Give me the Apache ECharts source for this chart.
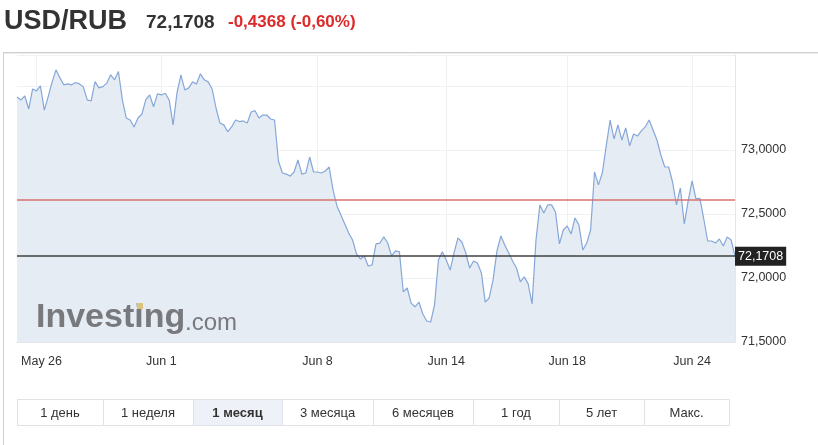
<!DOCTYPE html>
<html>
<head>
<meta charset="utf-8">
<script src="https://cdn.jsdelivr.net/npm/echarts@6/dist/echarts.min.js"></script>
<style>html,body{margin:0;padding:0;background:#fff;}#c{width:818px;height:445px;}</style>
</head>
<body>
<div id="c"></div>
<script>
// ---- data ----
const symbol = 'USD/RUB';
const lastPrice = 72.1708;
const prevClose = 72.6076;
const changeText = '-0,4368 (-0,60%)';
const tickLabels = ['May 26', 'Jun 1', 'Jun 8', 'Jun 14', 'Jun 18', 'Jun 24'];
const tickIndex = [5, 37, 77, 110, 141, 173];
const yTickValues = [71.5, 72.0, 72.5, 73.0];
const ranges = ['1 день', '1 неделя', '1 месяц', '3 месяца', '6 месяцев', '1 год', '5 лет', 'Макс.'];
const activeRange = '1 месяц';
// 3-hour steps over trading time
const rates = [
73.414,73.391,73.422,73.320,73.477,73.461,73.501,73.312,73.417,73.532,
73.626,73.563,73.509,73.516,73.509,73.527,73.516,73.493,73.391,73.383,
73.534,73.485,73.495,73.522,73.587,73.548,73.613,73.391,73.250,73.234,
73.180,73.250,73.281,73.391,73.430,73.338,73.438,73.430,73.443,73.391,
73.196,73.446,73.587,73.469,73.485,73.532,73.516,73.595,73.548,73.532,
73.477,73.328,73.211,73.196,73.143,73.180,73.234,73.222,73.227,73.211,
73.297,73.307,73.250,73.273,73.273,73.242,73.234,72.914,72.820,72.812,
72.796,72.828,72.922,72.812,72.820,72.945,72.828,72.828,72.820,72.836,
72.867,72.687,72.563,72.492,72.422,72.351,72.297,72.188,72.149,72.172,
72.094,72.102,72.266,72.273,72.321,72.273,72.172,72.212,72.204,71.891,
71.922,71.804,71.775,71.812,71.719,71.664,71.656,71.789,72.141,72.204,
72.141,72.062,72.196,72.313,72.281,72.196,72.078,72.133,72.117,72.040,
71.812,71.844,71.985,72.212,72.328,72.258,72.196,72.133,72.078,71.969,
72.009,71.954,71.797,72.297,72.571,72.508,72.571,72.571,72.516,72.266,
72.375,72.407,72.344,72.469,72.415,72.219,72.273,72.375,72.828,72.727,
72.820,73.032,73.234,73.086,73.196,73.078,73.172,73.032,73.125,73.109,
73.149,73.180,73.234,73.156,73.078,72.961,72.867,72.867,72.750,72.571,
72.703,72.422,72.602,72.758,72.618,72.622,72.461,72.289,72.289,72.273,
72.305,72.250,72.321,72.297,72.1708
];

// ---- build chart ----
const FONT = "'Liberation Sans', Arial, sans-serif";
const categories = rates.map(() => '');
tickIndex.forEach((idx, k) => { categories[idx] = tickLabels[k]; });
const fmt4 = v => v.toFixed(4).replace('.', ',');

const chart = echarts.init(document.getElementById('c'), null, {renderer: 'canvas'});

const graphics = [];
// panel borders
graphics.push({type: 'line', shape: {x1: 3, y1: 52.5, x2: 818, y2: 52.5}, style: {stroke: '#cfcfcf', lineWidth: 1}, silent: true});
graphics.push({type: 'line', shape: {x1: 3, y1: 53.5, x2: 818, y2: 53.5}, style: {stroke: '#ececec', lineWidth: 1}, silent: true});
graphics.push({type: 'line', shape: {x1: 3.5, y1: 52, x2: 3.5, y2: 445}, style: {stroke: '#d0d0d0', lineWidth: 1}, silent: true});
// header
graphics.push({type: 'text', left: 4, top: 8, style: {text: symbol, font: 'bold 27px ' + FONT, fill: '#333'}});
graphics.push({type: 'text', left: 146, top: 13, style: {text: fmt4(lastPrice), font: 'bold 19px ' + FONT, fill: '#333'}});
graphics.push({type: 'text', left: 228, top: 14, style: {text: changeText, font: 'bold 17px ' + FONT, fill: '#dd2a2a'}});
// watermark (drawn above the filled area)
graphics.push({type: 'text', left: 36, top: 301, z: 100, style: {text: 'Investing', font: 'bold 34px ' + FONT, fill: '#78797d'}, silent: true});
graphics.push({type: 'rect', shape: {x: 137, y: 303, width: 6, height: 6}, z: 101, style: {fill: '#dcc47e'}, silent: true});
graphics.push({type: 'text', left: 185, top: 311, z: 100, style: {text: '.com', font: '24px ' + FONT, fill: '#78797d'}, silent: true});
// range buttons
const btnEdges = [17, 103, 193, 282, 373, 473, 559, 644, 729];
ranges.forEach((r, i) => {
  const x0 = btnEdges[i], x1 = btnEdges[i + 1];
  const active = r === activeRange;
  graphics.push({type: 'rect', shape: {x: x0 + 0.5, y: 399.5, width: x1 - x0, height: 26},
    style: {fill: active ? '#eef2f8' : '#fff', stroke: '#dfe2e7', lineWidth: 1}, silent: true});
  graphics.push({type: 'text', x: (x0 + x1) / 2, y: 413, style: {text: r, font: (active ? 'bold ' : '') + '13px ' + FONT,
    fill: '#333', align: 'center', verticalAlign: 'middle'}, silent: true});
});

chart.setOption({
  animation: false,
  backgroundColor: '#fff',
  grid: {left: 17, top: 55, right: 83, bottom: 103, containLabel: false},
  xAxis: {
    type: 'category', data: categories, boundaryGap: false,
    axisTick: {show: false},
    axisLine: {show: true, lineStyle: {color: '#e3e6ea'}},
    axisLabel: {interval: 0, margin: 13, color: '#333', fontSize: 12.5, fontFamily: FONT,
      formatter: (v, i) => v === 'May 26' ? '{a|' + v + '}' : v,
      rich: {a: {padding: [0, 0, 0, 10], color: '#333', fontSize: 12.5, fontFamily: FONT}}},
    splitLine: {show: true, interval: (i) => categories[i] !== '', lineStyle: {color: '#eef0f3'}}
  },
  yAxis: {
    type: 'value', position: 'right', min: 71.5, max: 73.742, interval: 0.5,
    axisLine: {show: true, lineStyle: {color: '#e3e6ea'}},
    axisTick: {show: false},
    axisLabel: {margin: 6, color: '#333', fontSize: 12.5, fontFamily: FONT, padding: [0, 0, 3, 0],
      formatter: v => yTickValues.some(t => Math.abs(t - v) < 1e-6) ? fmt4(v) : ''},
    splitLine: {show: true, lineStyle: {color: '#f0f1f3'}}
  },
  series: [{
    type: 'line', data: rates, showSymbol: false, smooth: false,
    lineStyle: {color: '#86a7d9', width: 1.2},
    itemStyle: {color: '#86a7d9'},
    areaStyle: {color: '#e5ecf4', opacity: 1},
    z: 2,
    markLine: {
      silent: true, symbol: 'none', animation: false,
      data: [
        {yAxis: prevClose, lineStyle: {color: '#d9726f', width: 1.6, type: 'solid'}, label: {show: false}},
        {yAxis: lastPrice, lineStyle: {color: '#404040', width: 1.6, type: 'solid'},
          label: {show: true, position: 'end', distance: 0, formatter: fmt4(lastPrice),
            color: '#fff', backgroundColor: '#222', padding: [3, 3, 3, 3], fontSize: 12.5, fontFamily: FONT}}
      ]
    }
  }],
  graphic: graphics
});
</script>
</body>
</html>
